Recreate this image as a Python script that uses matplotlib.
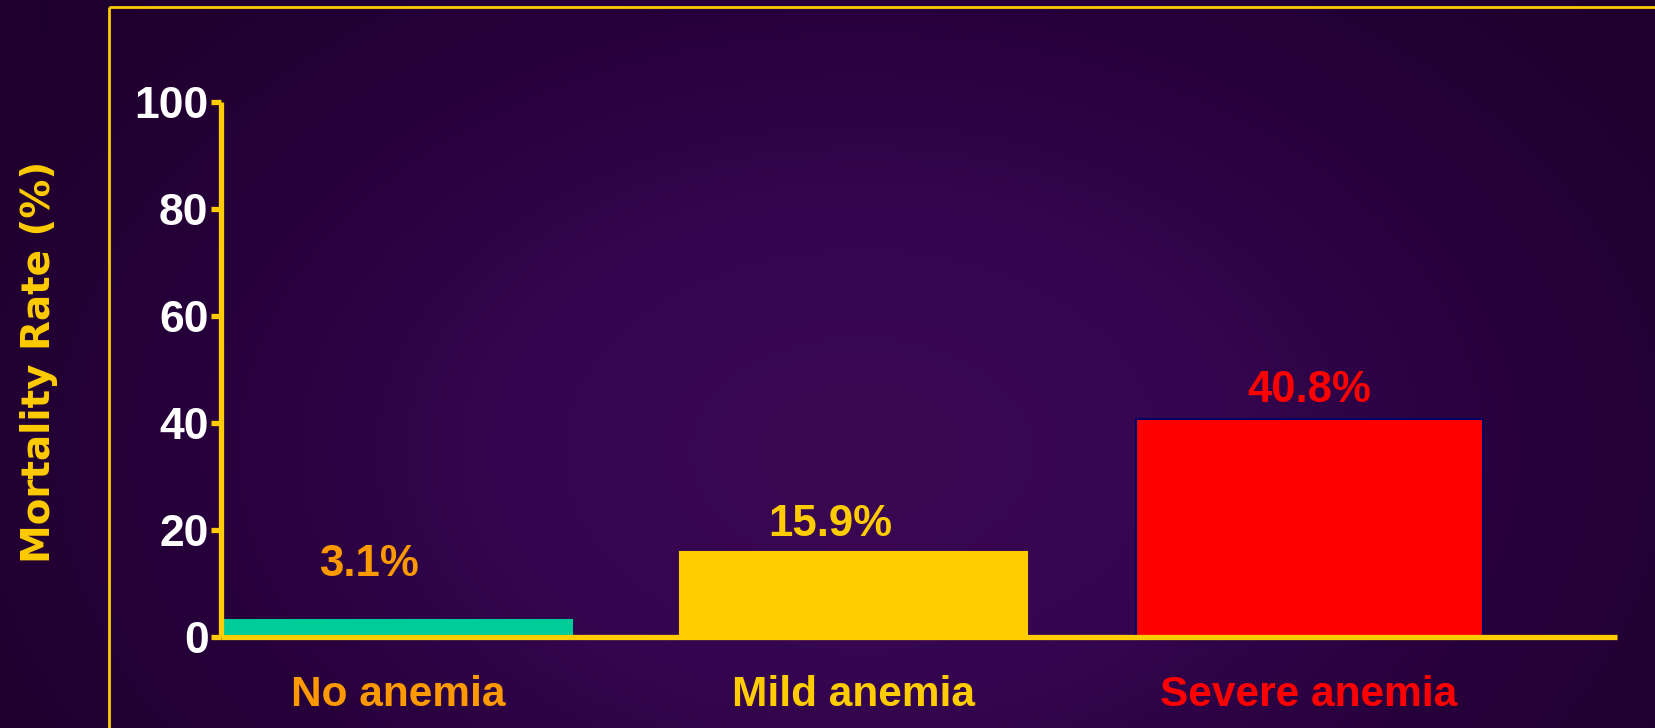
import numpy as np
import matplotlib
matplotlib.use("Agg")
import matplotlib.pyplot as plt
from matplotlib.lines import Line2D
from matplotlib.colors import LinearSegmentedColormap

# Data
categories = ["No anemia", "Mild anemia", "Severe anemia"]
mortality = [3.1, 15.9, 40.8]
value_labels = ["3.1%", "15.9%", "40.8%"]
y_ticks = [0, 20, 40, 60, 80, 100]

# Styling
bar_colors = ["#00CC99", "#FFCC00", "#FF0000"]
bar_edges = ["#00CC99", "#FFCC00", "#000066"]
text_colors = ["#FF9900", "#FFCC00", "#FF0000"]
label_lift = [32, 11.5, 12]   # points from bar top to label baseline
label_shift = [-21, -17, 0]   # horizontal nudge of value labels, points
gold = "#FFCC00"

plt.rcParams["font.family"] = ["Liberation Sans", "DejaVu Sans"]
plt.rcParams["font.weight"] = "bold"

fig = plt.figure(figsize=(16.55, 7.28), dpi=100)

# Purple slide background with a soft radial glow
bg = fig.add_axes([0, 0, 1, 1], zorder=-10)
bg.set_axis_off()
h, w = 364, 828
yy, xx = np.mgrid[0:h, 0:w]
cx, cy = 0.52 * w, 0.62 * h
d = np.sqrt(((xx - cx) / (0.62 * w)) ** 2 + ((yy - cy) / (0.95 * h)) ** 2)
d = np.clip(d, 0, 1)
cmap = LinearSegmentedColormap.from_list("slide", ["#3C0852", "#350650", "#26003A", "#1F002C"])
bg.imshow(d, cmap=cmap, aspect="auto", extent=[0, 1, 0, 1], vmin=0, vmax=1)
bg.set_xlim(0, 1)
bg.set_ylim(0, 1)

# Gold frame lines on the slide
fig.add_artist(Line2D([109 / 1655, 1.0], [1 - 7 / 728, 1 - 7 / 728],
                      transform=fig.transFigure, color=gold, lw=2.0,
                      solid_capstyle="butt"))
fig.add_artist(Line2D([109 / 1655, 109 / 1655], [0, 1 - 7 / 728],
                      transform=fig.transFigure, color=gold, lw=2.0,
                      solid_capstyle="butt"))

ax = fig.add_axes([221 / 1655, 91 / 728, 1396 / 1655, 535 / 728])
ax.patch.set_alpha(0)

x = np.arange(len(categories))
ax.bar(x, mortality, width=0.762, color=bar_colors, edgecolor=bar_edges,
       linewidth=1.5, zorder=2)

ax.set_xlim(-0.389, 2.676)
ax.set_ylim(0, 100)

for spine in ["top", "right"]:
    ax.spines[spine].set_visible(False)
for spine in ["left", "bottom"]:
    ax.spines[spine].set_color(gold)
    ax.spines[spine].set_linewidth(3.8)
    ax.spines[spine].set_zorder(3)
    ax.spines[spine].set_capstyle("butt")

ax.set_yticks(y_ticks)
ax.set_yticklabels([str(t) for t in y_ticks], color="white",
                   fontsize=32, fontweight="bold")
ax.tick_params(axis="y", direction="out", length=7, width=3.8,
               color=gold, pad=2)

ax.set_xticks(x)
ax.set_xticklabels(categories, fontsize=30.5, fontweight="bold")
for lbl, c in zip(ax.get_xticklabels(), text_colors):
    lbl.set_color(c)
ax.tick_params(axis="x", length=0, pad=27)

fig.text(39 / 1655, 1 - 362 / 728, "Mortality Rate (%)", color=gold,
         fontsize=28, fontweight="bold", family="DejaVu Sans",
         rotation=90, ha="center", va="center")

for xi, v, txt, c, lift, dx in zip(x, mortality, value_labels, text_colors,
                                   label_lift, label_shift):
    ax.annotate(txt, (xi, v), xytext=(dx, lift),
                textcoords="offset points", ha="center", va="baseline",
                color=c, fontsize=31.5, fontweight="bold")

fig.savefig("out.png", dpi=100, facecolor="#26003A")
